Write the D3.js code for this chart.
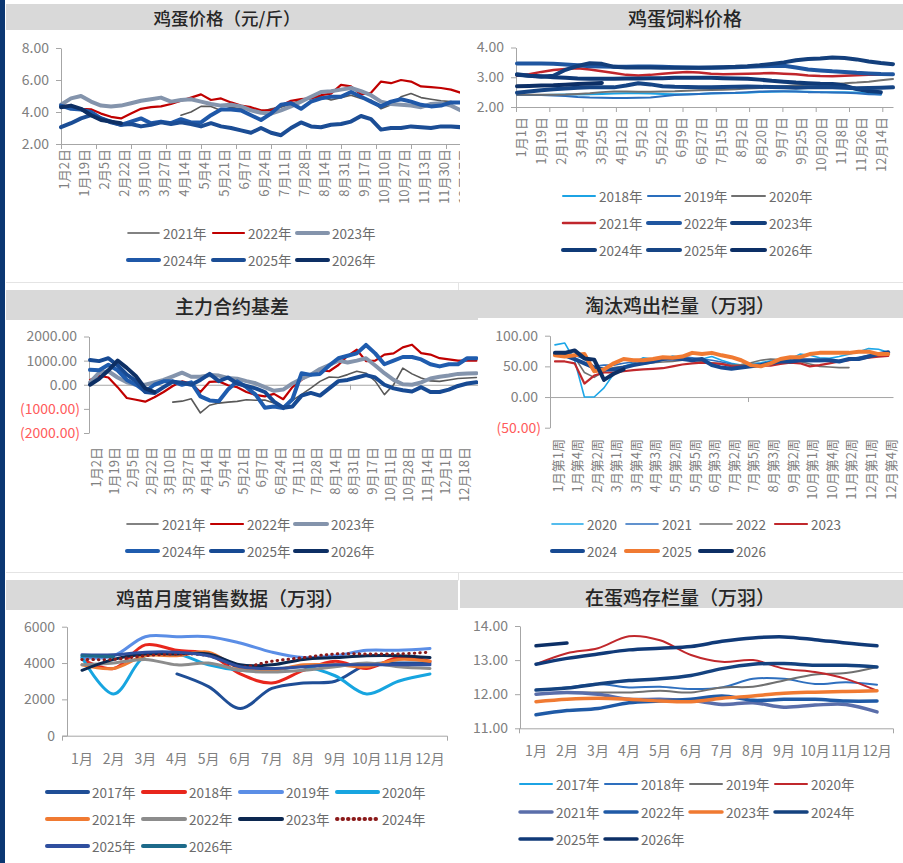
<!DOCTYPE html>
<html><head><meta charset="utf-8">
<script src="https://cdn.jsdelivr.net/npm/d3@7"></script>
<style>
body{margin:0;background:#fff}
svg{display:block}
text{font-family:"Noto Sans CJK SC","Noto Sans",sans-serif}
</style>
</head><body>
<svg id="c" width="903" height="863"></svg>
<script>
// ---------------- DATA ----------------
// Panel 1: 鸡蛋价格（元/斤）
const eggLabels = ["1月2日","1月19日","2月5日","2月22日","3月10日","3月27日","4月14日","5月4日","5月21日","6月7日","6月24日","7月11日","7月28日","8月14日","8月31日","9月17日","10月10日","10月27日","11月13日","11月30日","12月17日"];
const eggYears = ["2021年","2022年","2023年","2024年","2025年","2026年"];
const egg2021 = [null,null,null,null,null,null,null,null,null,null,null,null,3.8,4.0,4.35,4.35,4.1,4.3,4.2,4.2,4.0,4.2,4.3,4.5,4.75,4.85,4.95,4.75,4.9,5.05,4.85,4.75,4.2,4.45,4.95,5.15,4.9,4.8,4.7,4.65,4.55];
const egg2022 = [4.38,4.38,4.2,4.17,3.9,3.7,3.6,3.9,4.2,4.3,4.35,4.5,4.7,4.9,5.1,4.75,4.85,4.6,4.4,4.3,4.1,4.1,4.4,4.7,4.8,4.85,5.05,5.15,5.7,5.6,5.1,5.2,5.9,5.8,6.0,5.9,5.6,5.55,5.5,5.4,5.2];
const egg2023 = [4.45,4.85,5.0,4.65,4.4,4.35,4.4,4.55,4.7,4.8,4.9,4.65,4.75,4.8,4.65,4.5,4.4,4.45,4.35,4.1,3.95,3.9,4.1,4.35,4.65,4.95,5.25,5.3,5.4,5.5,5.3,5.05,4.65,4.5,4.45,4.4,4.3,4.5,4.55,4.4,4.1];
const egg2024 = [4.4,4.2,4.15,4.0,3.6,3.4,3.2,3.4,3.6,3.3,3.4,3.3,3.55,3.35,3.35,3.8,4.15,4.15,4.1,3.8,3.5,3.9,4.45,4.55,4.2,4.65,4.85,4.95,4.95,5.25,4.95,4.65,4.35,4.65,4.8,4.65,4.45,4.35,4.4,4.6,4.6];
const egg2025 = [3.05,3.3,3.6,3.8,3.6,3.35,3.2,3.25,3.1,3.2,3.35,3.25,3.35,3.25,3.1,3.3,3.1,3.0,2.85,2.7,3.0,2.7,2.55,3.0,3.35,3.1,3.05,3.2,3.25,3.4,3.75,3.55,2.9,3.0,3.0,3.1,3.05,3.0,3.1,3.1,3.05];
const egg2026 = [4.3,4.4,4.2,3.8,3.5,3.4,3.3];
const eggTicks = [2,4,6,8];

// Panel 2: 鸡蛋饲料价格
const feedLabels = ["1月1日","1月19日","2月11日","3月4日","3月25日","4月12日","5月2日","5月22日","6月9日","6月27日","7月15日","8月2日","8月20日","9月7日","9月25日","10月20日","11月8日","11月26日","12月14日"];
const feedYears = ["2018年","2019年","2020年","2021年","2022年","2023年","2024年","2025年","2026年"];
const feed2018 = [2.4,2.4,2.4,2.41,2.42,2.42,2.43,2.44,2.45,2.46,2.46,2.45,2.44,2.43,2.43,2.44,2.45,2.46,2.47,2.48,2.5,2.51,2.52,2.52,2.51,2.5,2.5,2.5,2.49,2.45,2.42];
const feed2019 = [2.4,2.4,2.4,2.39,2.37,2.34,2.32,2.31,2.3,2.3,2.31,2.32,2.36,2.4,2.42,2.44,2.46,2.47,2.48,2.5,2.52,2.53,2.53,2.52,2.5,2.5,2.49,2.48,2.46,2.43,2.42];
const feed2020 = [2.41,2.41,2.41,2.41,2.42,2.44,2.46,2.5,2.52,2.52,2.51,2.51,2.52,2.53,2.55,2.56,2.57,2.58,2.6,2.62,2.64,2.67,2.7,2.73,2.75,2.77,2.79,2.8,2.82,2.85,2.9,2.94];
const feed2021 = [3.05,3.1,3.18,3.24,3.28,3.3,3.26,3.2,3.14,3.08,3.06,3.08,3.12,3.15,3.18,3.16,3.12,3.1,3.11,3.12,3.13,3.14,3.12,3.1,3.06,3.04,3.03,3.05,3.07,3.08,3.08,3.08];
const feed2022 = [3.46,3.46,3.46,3.45,3.43,3.4,3.37,3.36,3.35,3.35,3.36,3.36,3.35,3.34,3.33,3.32,3.32,3.33,3.34,3.35,3.37,3.38,3.39,3.33,3.26,3.23,3.2,3.18,3.15,3.13,3.11,3.1];
const feed2023 = [3.1,3.05,3.02,3.05,3.25,3.38,3.47,3.45,3.35,3.33,3.33,3.33,3.32,3.32,3.32,3.32,3.33,3.34,3.35,3.37,3.4,3.45,3.5,3.57,3.61,3.63,3.66,3.65,3.6,3.53,3.48,3.44];
const feed2024 = [3.08,3.05,3.03,3.0,2.98,2.96,2.95,2.95,2.95,2.96,2.96,2.97,2.97,2.98,2.98,2.98,2.98,2.97,2.96,2.95,2.92,2.88,2.85,2.82,2.8,2.78,2.77,2.72,2.6,2.53,2.5];
const feed2025 = [2.48,2.52,2.56,2.6,2.62,2.65,2.66,2.66,2.66,2.72,2.8,2.76,2.7,2.68,2.67,2.66,2.66,2.67,2.68,2.69,2.68,2.67,2.66,2.65,2.66,2.67,2.66,2.65,2.63,2.64,2.65,2.66];
const feed2026 = [2.7,2.71,2.72,2.73,2.75,2.77,2.79,2.81];
const feedTicks = [2,3,4];

// Panel 3: 主力合约基差
const basisLabels = ["1月2日","1月19日","2月5日","2月22日","3月10日","3月27日","4月14日","5月4日","5月21日","6月7日","6月24日","7月11日","7月28日","8月14日","8月31日","9月17日","10月11日","10月28日","11月14日","12月1日","12月18日"];
const basisYears = ["2021年","2022年","2023年","2024年","2025年","2026年"];
const basis2021 = [null,null,null,null,null,null,null,null,null,-720,-680,-580,-1170,-850,-760,-720,-690,-620,-640,-630,-760,-900,-650,-400,-140,140,320,300,420,560,480,150,-410,0,690,450,280,160,140,200,260,280,300];
const basis2022 = [200,380,300,-100,-550,-620,-700,-520,-300,-50,140,50,-300,120,140,-20,-100,-300,-420,-480,-380,-600,-100,200,440,600,560,820,1200,1450,980,1000,1250,1300,1550,1660,1310,1250,1100,1050,1000,1000,1000];
const basis2023 = [100,500,560,300,100,0,0,100,200,350,500,330,330,400,380,280,250,150,60,-100,-250,-200,50,250,420,650,820,1000,920,1000,1100,800,480,200,20,0,100,260,330,380,450,470,480];
const basis2024 = [620,600,830,600,200,0,-280,0,140,140,0,100,-480,-650,-680,-200,140,-100,-410,-950,-900,-970,-600,480,410,450,800,1100,1200,1300,1650,1300,850,1000,1150,1150,1050,850,760,850,850,1100,1100];
const basis2025 = [1030,980,1100,800,420,150,-300,-340,-100,130,80,0,200,450,150,300,50,-50,-150,-300,-700,-950,-900,-450,-340,-450,-150,150,200,300,400,300,0,-150,-230,-280,-100,-300,-300,-200,-50,50,100];
const basis2026 = [0,250,600,1000,700,350,-150,-300];
const basisTicks = [-2000,-1000,0,1000,2000];

// Panel 4: 淘汰鸡出栏量（万羽）
const cullLabels = ["1月第1周","1月第4周","2月第2周","3月第1周","3月第4周","4月第3周","5月第2周","5月第5周","6月第3周","7月第2周","7月第5周","8月第3周","9月第2周","10月第1周","10月第4周","11月第2周","12月第1周","12月第4周"];
const cullYears = ["2020","2021","2022","2023","2024","2025","2026"];
const cull2020 = [85,88,60,0,0,15,38,50,55,64,62,61,67,64,61,62,66,60,55,52,54,56,59,62,62,70,68,64,63,66,70,74,79,78,73];
const cull2021 = [70,72,68,62,50,52,52,55,57,58,60,62,64,66,64,62,60,57,54,50,52,54,57,60,60,58,58,58,59,60,62,65,68,70,72];
const cull2022 = [72,73,65,40,32,42,48,50,52,54,56,57,58,60,60,58,56,54,52,53,56,60,62,61,60,58,54,50,49,48,48];
const cull2023 = [58,58,55,22,35,40,40,42,44,45,46,47,50,53,55,56,55,54,50,50,50,51,51,54,56,55,50,52,55,58,60,62,64,66,67];
const cull2024 = [70,68,62,55,48,45,45,48,52,55,58,62,63,62,60,62,52,48,46,48,50,52,55,58,58,60,60,60,60,58,62,62,66,70,73];
const cull2025 = [68,66,68,70,42,45,55,62,60,60,62,65,64,66,72,70,72,68,65,60,52,50,55,62,65,65,70,72,72,72,72,74,74,70,70];
const cull2026 = [72,72,76,63,61,28,38,45];
const cullTicks = [-50,0,50,100];

// Panel 5: 鸡苗月度销售数据（万羽）
const months = ["1月","2月","3月","4月","5月","6月","7月","8月","9月","10月","11月","12月"];
const chickYears = ["2017年","2018年","2019年","2020年","2021年","2022年","2023年","2024年","2025年","2026年"];
const chick2017 = [null,null,null,3400,2700,1500,2600,2900,3000,3900,4000,4000];
const chick2018 = [4200,3700,5000,4700,4500,3400,2900,3600,4100,3700,4300,4100];
const chick2019 = [4300,4400,5450,5450,5450,5100,4600,4300,4400,4700,4700,4800];
const chick2020 = [4300,2300,4400,4500,3900,3600,3600,3800,3300,2300,3000,3400];
const chick2021 = [3900,3700,4400,4400,4600,3700,3600,3900,3900,3800,4200,4100];
const chick2022 = [3900,4000,4200,3900,4000,3600,3500,3600,3800,4000,3800,3700];
const chick2023 = [3600,4200,4500,4500,4500,3900,3900,4200,4300,4400,4400,4300];
const chick2024 = [4200,4200,4400,4500,4400,3800,4100,4300,4500,4500,4500,4600];
const chick2025 = [4450,4450,4600,4600,4400,3800,3700,3800,3900,3900,3900,3900];
const chick2026 = [4400,4350];
const chickTicks = [0,2000,4000,6000];

// Panel 6: 在蛋鸡存栏量（万羽）
const stockYears = ["2017年","2018年","2019年","2020年","2021年","2022年","2023年","2024年","2025年","2026年"];
const stock2017 = [];
const stock2018 = [12.12,12.2,12.3,12.2,12.22,12.15,12.2,12.45,12.45,12.3,12.35,12.28];
const stock2019 = [12.0,12.05,12.05,12.05,12.1,12.05,12.2,12.22,12.4,12.58,12.62,12.8];
const stock2020 = [12.88,13.2,13.35,13.7,13.58,13.15,12.95,13.0,12.75,12.65,12.45,12.1];
const stock2021 = [12.0,12.05,12.0,11.85,11.85,11.82,11.7,11.75,11.62,11.68,11.7,11.48];
const stock2022 = [11.4,11.52,11.58,11.75,11.8,11.85,11.95,11.82,11.85,11.85,11.8,11.8];
const stock2023 = [11.78,11.85,11.88,11.85,11.8,11.78,11.88,11.95,12.03,12.06,12.08,12.1];
const stock2024 = [12.12,12.18,12.3,12.4,12.45,12.55,12.75,12.88,12.9,12.85,12.85,12.8];
const stock2025 = [12.88,13.05,13.18,13.3,13.35,13.4,13.55,13.65,13.68,13.6,13.5,13.42];
const stock2026 = [13.42,13.5];
const stockTicks = [11,12,13,14];

// ---------------- DRAWING ----------------
const svg = d3.select('#c');
const defs = svg.append('defs');
svg.append('rect').attr('width',903).attr('height',863).attr('fill','#fff');
// left navy stripe
svg.append('rect').attr('x',0).attr('y',0).attr('width',5).attr('height',863).attr('fill','#0b3772');
// faint separators
[[282.5],[572.5]].forEach(([yy])=>{
  svg.append('line').attr('x1',6).attr('x2',903).attr('y1',yy).attr('y2',yy).attr('stroke','#e4e4e4');
  svg.append('line').attr('x1',458.5).attr('x2',458.5).attr('y1',yy).attr('y2',yy+8).attr('stroke','#e4e4e4');
});

const TICK_COLOR = '#808080', AXIS_COLOR = '#a6a6a6', NEG_COLOR = '#ff5b5b', LEG_COLOR = '#6b6b6b';

function makeGroup(id, clip){
  defs.append('clipPath').attr('id','clip'+id).append('rect')
    .attr('x',clip[0]).attr('y',clip[1]).attr('width',clip[2]).attr('height',clip[3]);
  return svg.append('g').attr('clip-path',`url(#clip${id})`);
}
function titleBar(g, bar, text, cx, cy, size){
  g.append('rect').attr('x',bar[0]).attr('y',bar[1]).attr('width',bar[2]).attr('height',bar[3]).attr('fill','#d9d9d9');
  g.append('text').text(text).attr('x',cx).attr('y',cy).attr('text-anchor','middle')
    .attr('dominant-baseline','central').attr('font-size',size).attr('font-weight',500).attr('fill','#262626');
}
function yAxis(g, scale, x, ticks, fmt){
  const ax = g.append('g').attr('transform',`translate(${x},0)`)
    .call(d3.axisLeft(scale).tickValues(ticks).tickSize(5).tickSizeOuter(0).tickPadding(7).tickFormat(fmt));
  ax.select('.domain').attr('stroke',AXIS_COLOR);
  ax.selectAll('.tick line').attr('stroke',AXIS_COLOR);
  ax.selectAll('.tick text').attr('font-size',14).attr('font-family',null)
    .attr('fill',d=> d<0 ? NEG_COLOR : TICK_COLOR);
  return ax;
}
function xAxisLine(g, scale, y, tickVals){
  const ax = g.append('g').attr('transform',`translate(0,${y})`)
    .call(d3.axisBottom(scale).tickValues(tickVals).tickSize(5).tickSizeOuter(0).tickFormat(''));
  ax.select('.domain').attr('stroke',AXIS_COLOR);
  ax.selectAll('.tick line').attr('stroke',AXIS_COLOR);
  return ax;
}
function rotLabels(g, labels, scale, top){
  g.append('g').selectAll('text').data(labels).join('text')
    .text(d=>d)
    .attr('transform',(d,i)=>`translate(${scale(i)},${top}) rotate(-90)`)
    .attr('text-anchor','end').attr('dominant-baseline','central')
    .attr('font-size',13).attr('fill',TICK_COLOR);
}
function series(g, values, xs, ys, st, curve){
  const line = d3.line().defined(d=>d!=null).x((d,i)=>xs(i)).y(d=>ys(d)).curve(curve||d3.curveLinear);
  g.append('path').datum(values).attr('d',line).attr('fill','none')
    .attr('stroke',st.c).attr('stroke-width',st.w).attr('stroke-linejoin','round')
    .attr('stroke-linecap','round')
    .attr('stroke-dasharray',st.dash||null);
}
function legend(g, names, styles, cols, rows, ncol){
  names.forEach((n,i)=>{
    const c = cols[i % ncol], y = rows[Math.floor(i/ncol)], st = styles[i];
    g.append('line').attr('x1',c[0]).attr('x2',c[1]).attr('y1',y).attr('y2',y)
      .attr('stroke',st.c).attr('stroke-width',st.lw||st.w).attr('stroke-linecap','round')
      .attr('stroke-dasharray',st.dash||null);
    g.append('text').text(n).attr('x',c[1]+4).attr('y',y).attr('dominant-baseline','central')
      .attr('font-size',13.5).attr('fill',LEG_COLOR);
  });
}
const f2 = d3.format('.2f');
const fParen = d => d<0 ? '(' + f2(-d) + ')' : f2(d);

// ===== Panel 1 =====
{
  const g = makeGroup(1,[6,0,454,282]);
  titleBar(g,[6,4,454,26],'鸡蛋价格（元/斤）',227,17,17.5);
  const y = d3.scaleLinear().domain([2,8]).range([144,48]);
  const x = d3.scaleLinear().domain([0,40]).range([61,461]);
  const xl = d3.scaleLinear().domain([0,eggLabels.length-1]).range([63,463]);
  yAxis(g,y,61,eggTicks,f2);
  xAxisLine(g,x,144,d3.range(0,41,3.5));
  rotLabels(g,eggLabels,xl,149);
  const styles = [{c:'#595959',w:1.6},{c:'#c00000',w:2.2},{c:'#8494ac',w:4},{c:'#1f58a8',w:4},{c:'#1b4d95',w:4},{c:'#0d2f64',w:4}];
  [egg2021,egg2022,egg2023,egg2024,egg2025,egg2026].forEach((v,i)=>series(g,v,x,y,styles[i]));
  legend(g,eggYears,styles,[[128,159],[213,244],[297,328]],[233,260],3);
}

// ===== Panel 2 =====
{
  const g = makeGroup(2,[460,0,443,282]);
  titleBar(g,[460,4,443,26],'鸡蛋饲料价格',685,17,19);
  const y = d3.scaleLinear().domain([2,4]).range([107,47.5]);
  const x = d3.scaleLinear().domain([0,31]).range([517,893]);
  const xa = d3.scaleLinear().domain([0,1]).range([516,893]);
  const xl = d3.scaleLinear().domain([0,feedLabels.length-1]).range([520,880]);
  yAxis(g,y,516,feedTicks,f2);
  xAxisLine(g,xa,107,d3.range(0,1.0001,33.3/377));
  rotLabels(g,feedLabels,xl,117);
  const styles = [{c:'#1ca3e4',w:2},{c:'#2a6ebd',w:2},{c:'#707070',w:2},{c:'#c0262c',w:2.5},{c:'#1f56a0',w:4},{c:'#133f7c',w:4},{c:'#0f3a77',w:4},{c:'#164585',w:4},{c:'#0c2f66',w:4}];
  [feed2018,feed2019,feed2020,feed2021,feed2022,feed2023,feed2024,feed2025,feed2026].forEach((v,i)=>series(g,v,x,y,styles[i]));
  legend(g,feedYears,styles,[[563,595],[648,680],[732,765]],[196,223,250],3);
}

// ===== Panel 3 =====
{
  const g = makeGroup(3,[6,283,472,289]);
  titleBar(g,[6,290,476,30],'主力合约基差',232,305,19);
  const y = d3.scaleLinear().domain([-2000,2000]).range([433,336.5]);
  const x = d3.scaleLinear().domain([0,42]).range([90,476.4]);
  const xa = d3.scaleLinear().domain([0,1]).range([89,478]);
  const xl = d3.scaleLinear().domain([0,basisLabels.length-1]).range([95,463]);
  const ax = yAxis(g,y,89,basisTicks,fParen);
  ax.selectAll('.tick text').attr('dx',d=> d<0 ? 3 : 0);
  xAxisLine(g,xa,y(0),[261/389]);
  rotLabels(g,basisLabels,xl,447);
  const styles = [{c:'#595959',w:1.6},{c:'#c00000',w:2.2},{c:'#8494ac',w:4},{c:'#1f5cae',w:4},{c:'#174a93',w:4},{c:'#0d2f64',w:4}];
  [basis2021,basis2022,basis2023,basis2024,basis2025,basis2026].forEach((v,i)=>series(g,v,x,y,styles[i]));
  legend(g,basisYears,styles,[[127,158],[211,243],[295,327]],[524,551],3);
}

// ===== Panel 4 =====
{
  const g = makeGroup(4,[460,283,443,289]);
  titleBar(g,[460,290,443,28],'淘汰鸡出栏量（万羽）',680,304,19);
  const y = d3.scaleLinear().domain([-50,100]).range([427.7,335.7]);
  const x = d3.scaleLinear().domain([0,34]).range([555,888.2]);
  const xa = d3.scaleLinear().domain([0,1]).range([550,893]);
  const xl = d3.scaleLinear().domain([0,cullLabels.length-1]).range([557,890]);
  const ax = yAxis(g,y,550,cullTicks,fParen);
  ax.selectAll('.tick text').attr('dx',d=> d<0 ? 3 : 0);
  xAxisLine(g,xa,y(0),[198/343]);
  rotLabels(g,cullLabels,xl,439);
  const styles = [{c:'#1ca6e8',w:1.6},{c:'#2e6fbe',w:1.6},{c:'#707070',w:1.6},{c:'#c0282c',w:2.2},{c:'#174a92',w:4},{c:'#f07a32',w:4},{c:'#0d2f64',w:4}];
  [cull2020,cull2021,cull2022,cull2023,cull2024,cull2025,cull2026].forEach((v,i)=>series(g,v,x,y,styles[i]));
  legend(g,cullYears,styles,[[552,583],[626,658],[700,732],[775,807]],[524,551],4);
}

// ===== Panel 5 =====
{
  const g = makeGroup(5,[6,573,452,290]);
  titleBar(g,[6,580,452,30],'鸡苗月度销售数据（万羽）',230,597,19);
  const y = d3.scaleLinear().domain([0,6000]).range([735.7,626.7]);
  const xp = d3.scalePoint().domain(months).range([82,430]);
  const x = i => xp(months[i]);
  const xa = d3.scaleLinear().domain([0,1]).range([62,447]);
  yAxis(g,y,67,chickTicks,d3.format('d'));
  const ax = g.append('g').attr('transform',`translate(0,${y(0)})`)
    .call(d3.axisBottom(xa).tickValues([]).tickSizeOuter(5));
  ax.select('.domain').attr('stroke',AXIS_COLOR);
  g.append('g').selectAll('text').data(months).join('text').text(d=>d)
    .attr('x',d=>xp(d)).attr('y',758).attr('text-anchor','middle').attr('dominant-baseline','central')
    .attr('font-size',14).attr('fill',TICK_COLOR);
  const styles = [{c:'#1f4e96',w:3},{c:'#e8261c',w:3},{c:'#5b8ee6',w:3},{c:'#17a5e0',w:3},{c:'#f07a32',w:3},{c:'#8c8c8c',w:3},{c:'#0c2850',w:3},{c:'#8b1a1a',w:3,dash:'0.5 5'},{c:'#2f4f9f',w:3},{c:'#1d6a8a',w:3}];
  const curve = d3.curveCatmullRom.alpha(0.5);
  [chick2017,chick2018,chick2019,chick2020,chick2021,chick2022,chick2023,chick2024,chick2025,chick2026].forEach((v,i)=>series(g,v,x,y,styles[i],curve));
  const lstyles = styles.map(s=>Object.assign({},s,{lw:4}));
  legend(g,chickYears,lstyles,[[47,88],[143,185],[240,282],[337,378]],[792,819,846],4);
}

// ===== Panel 6 =====
{
  const g = makeGroup(6,[460,573,443,290]);
  titleBar(g,[460,580,443,28],'在蛋鸡存栏量（万羽）',680,596,19);
  const y = d3.scaleLinear().domain([11,14]).range([728.3,626]);
  const xp = d3.scalePoint().domain(months).range([536,877]);
  const x = i => xp(months[i]);
  const xa = d3.scaleLinear().domain([0,1]).range([519,893]);
  yAxis(g,y,520,stockTicks,f2);
  const ax = g.append('g').attr('transform',`translate(0,${y(11)})`)
    .call(d3.axisBottom(xa).tickValues([]).tickSizeOuter(5));
  ax.select('.domain').attr('stroke',AXIS_COLOR);
  g.append('g').selectAll('text').data(months).join('text').text(d=>d)
    .attr('x',d=>xp(d)).attr('y',750).attr('text-anchor','middle').attr('dominant-baseline','central')
    .attr('font-size',14).attr('fill',TICK_COLOR);
  const styles = [{c:'#1ca3e4',w:2},{c:'#2e6fbe',w:2},{c:'#707070',w:2},{c:'#c0282c',w:2},{c:'#5a6eaa',w:3.5},{c:'#1f5aa6',w:3.5},{c:'#f07a32',w:3.5},{c:'#14427f',w:3.5},{c:'#103a78',w:3.5},{c:'#0c2f66',w:3.5}];
  const curve = d3.curveCatmullRom.alpha(0.5);
  [stock2017,stock2018,stock2019,stock2020,stock2021,stock2022,stock2023,stock2024,stock2025,stock2026].forEach((v,i)=>series(g,v,x,y,styles[i],curve));
  legend(g,stockYears,styles,[[520,552],[605,637],[690,722],[775,807]],[784,812,839],4);
}
</script>
</body></html>
